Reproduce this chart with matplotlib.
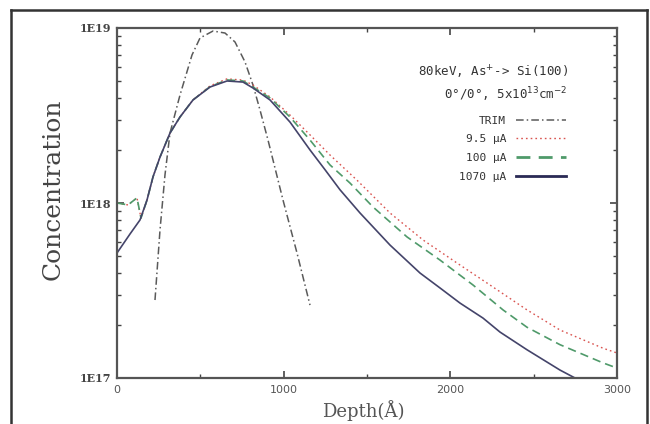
import matplotlib
matplotlib.use("Agg")
import matplotlib.pyplot as plt
from matplotlib.lines import Line2D
from matplotlib.ticker import LogLocator, FixedLocator, NullFormatter, FixedFormatter

# ---------------- data (depth in Angstrom, concentration in cm^-3) ----------------
trim_depth = [228, 258, 288, 318, 378, 450, 498, 576, 648, 708, 768, 816, 858, 906, 996, 1080, 1158]
trim_conc = [2.79e17, 7.01e17, 1.45e18, 2.51e18, 4.14e18, 7.01e18, 8.77e18, 9.61e18, 9.36e18,
             8.32e18, 6.40e18, 4.72e18, 3.40e18, 2.29e18, 1.04e18, 5.18e17, 2.61e17]

i95_depth = [0, 66, 120, 144, 180, 216, 258, 318, 378, 456, 558, 660, 756, 816, 918, 1038, 1158,
             1278, 1440, 1638, 1836, 2040, 2220, 2460, 2658, 2916, 3000]
i95_conc = [1.0e18, 9.75e17, 1.07e18, 8.2e17, 1.04e18, 1.41e18, 1.83e18, 2.51e18, 3.10e18, 3.88e18,
            4.67e18, 5.12e18, 5.04e18, 4.72e18, 4.04e18, 3.18e18, 2.45e18, 1.88e18, 1.35e18,
            8.77e17, 6.15e17, 4.54e17, 3.49e17, 2.45e17, 1.88e17, 1.48e17, 1.39e17]

i100_depth = [0, 66, 120, 144, 180, 216, 258, 318, 378, 456, 558, 660, 756, 816, 918, 1038, 1158,
              1278, 1398, 1536, 1740, 1938, 2136, 2316, 2460, 2658, 2916, 3000]
i100_conc = [1.0e18, 9.75e17, 1.07e18, 8.2e17, 1.04e18, 1.41e18, 1.83e18, 2.51e18, 3.10e18, 3.88e18,
             4.62e18, 5.05e18, 4.98e18, 4.60e18, 3.98e18, 3.10e18, 2.29e18, 1.65e18, 1.30e18,
             9.49e17, 6.40e17, 4.72e17, 3.40e17, 2.45e17, 1.95e17, 1.55e17, 1.22e17, 1.14e17]

i1070_depth = [0, 78, 138, 180, 216, 258, 318, 378, 456, 558, 660, 756, 816, 918, 1038, 1158, 1248,
               1338, 1458, 1638, 1818, 1938, 2058, 2196, 2298, 2460, 2658, 2748]
i1070_conc = [5.18e17, 6.65e17, 8.0e17, 1.04e18, 1.41e18, 1.83e18, 2.51e18, 3.10e18, 3.88e18,
              4.60e18, 4.98e18, 4.91e18, 4.54e18, 3.88e18, 2.90e18, 2.01e18, 1.55e18, 1.19e18,
              8.77e17, 5.75e17, 3.98e17, 3.27e17, 2.68e17, 2.20e17, 1.83e17, 1.45e17, 1.11e17, 1.0e17]

x_ticks = [0, 1000, 2000, 3000]
x_ticklabels = ["0", "1000", "2000", "3000"]
y_ticks = [1e17, 1e18, 1e19]
y_ticklabels = ["1E17", "1E18", "1E19"]
labels = ["TRIM", "9.5 \u03bcA", "100 \u03bcA", "1070 \u03bcA"]

# ---------------- figure ----------------
fig = plt.figure(figsize=(6.5, 4.24), dpi=100)
ax = fig.add_axes([117/650, 1-378/424, 500/650, 350/424])

c_trim = "#5a5a5a"
c_red = "#d9534f"
c_green = "#4f9a6a"
c_navy = "#44446a"

ax.plot(trim_depth, trim_conc, color=c_trim, lw=1.1, linestyle=(0, (5, 2, 1, 2)), label=labels[0])
ax.plot(i95_depth, i95_conc, color=c_red, lw=1.0, linestyle=(0, (1.2, 2.2)), label=labels[1])
ax.plot(i100_depth, i100_conc, color=c_green, lw=1.2, linestyle=(0, (5, 3)), label=labels[2])
ax.plot(i1070_depth, i1070_conc, color=c_navy, lw=1.2, linestyle="-", label=labels[3])

ax.set_yscale("log")
ax.set_xlim(0, 3000)
ax.set_ylim(1e17, 1e19)

ax.xaxis.set_major_locator(FixedLocator(x_ticks))
ax.xaxis.set_major_formatter(FixedFormatter(x_ticklabels))
ax.xaxis.set_minor_locator(FixedLocator([500, 1500, 2500]))
ax.yaxis.set_major_locator(FixedLocator(y_ticks))
ax.yaxis.set_major_formatter(FixedFormatter(y_ticklabels))
ax.yaxis.set_minor_locator(LogLocator(base=10, subs=range(2, 10)))
ax.yaxis.set_minor_formatter(NullFormatter())

ax.tick_params(which="both", direction="in", top=True, right=True, color="#444")
ax.tick_params(which="major", length=5, width=1.2)
ax.tick_params(which="minor", length=3, width=1.0)
ax.tick_params(axis="x", labelsize=8, labelcolor="#555", pad=5)
ax.tick_params(axis="y", labelsize=8, labelcolor="#444", pad=4)
for lab in ax.get_yticklabels():
    lab.set_family("DejaVu Serif")
    lab.set_fontweight("bold")
for sp in ax.spines.values():
    sp.set_color("#555")
    sp.set_linewidth(1.6)

fig.text(53/650, 1-189/424, "Concentration", rotation=90, ha="center", va="center",
         fontsize=18, family="DejaVu Serif", color="#444")
fig.text(363/650, 1-411/424, "Depth(\u00c5)", ha="center", va="center",
         fontsize=13, family="DejaVu Serif", color="#555")

ax.text(0.902, 0.874, "80keV, As$^{+}$-> Si(100)", transform=ax.transAxes, ha="right", va="center",
        fontsize=9, family="DejaVu Sans Mono", color="#333")
ax.text(0.902, 0.809, "0\u00b0/0\u00b0, 5x10$^{13}$cm$^{-2}$", transform=ax.transAxes, ha="right",
        va="center", fontsize=9, family="DejaVu Sans Mono", color="#333")

leg = ax.legend(loc="upper right", bbox_to_anchor=(0.898, 0.75), frameon=False, markerfirst=False,
                prop={"family": "DejaVu Sans Mono", "size": 8}, labelspacing=0.78,
                handlelength=4.5, handletextpad=0.9, borderpad=0.0, borderaxespad=0.0)
for t in leg.get_texts():
    t.set_color("#333")
hl = leg.legend_handles
hl[3].set_linewidth(2.0)
hl[3].set_color("#2a2a55")
hl[2].set_linewidth(2.0)

# outer frame
for xs, ys in [([11/650, 11/650], [0, 1-10/424]), ([11/650, 647/650], [1-10/424, 1-10/424]),
               ([647/650, 647/650], [1-10/424, 0])]:
    fig.add_artist(Line2D(xs, ys, transform=fig.transFigure, color="#333", lw=1.8))

fig.savefig("out.png", dpi=100)
